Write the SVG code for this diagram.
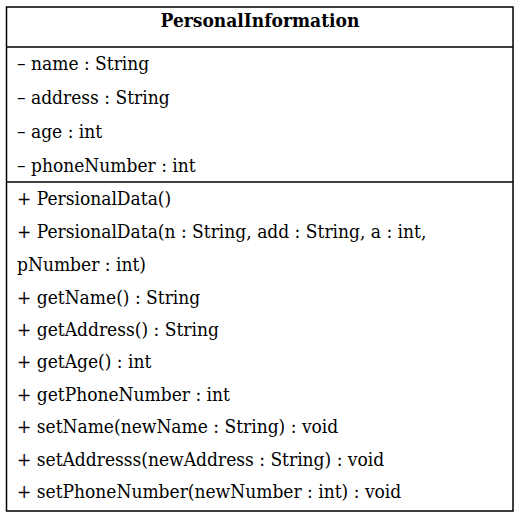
<svg xmlns="http://www.w3.org/2000/svg" width="520" height="518" viewBox="0 0 520 518">
<style>
text{font-family:'DejaVu Serif',serif;font-stretch:condensed;font-size:19px;fill:#000}
.h{font-weight:bold;text-anchor:middle}
.l{stroke:#000;stroke-width:1.5;fill:none}
</style>
<rect width="520" height="518" fill="#fff"/>
<g id="PersonalInformation">
<rect class="l" x="6.5" y="7" width="506.5" height="504"/>
<line class="l" x1="6.5" y1="47" x2="513" y2="47"/>
<line class="l" x1="6.5" y1="182" x2="513" y2="182"/>
<text class="h" x="260" y="27">PersonalInformation</text>
<text x="17" y="70">– name : String</text>
<text x="17" y="104">– address : String</text>
<text x="17" y="138">– age : int</text>
<text x="17" y="172">– phoneNumber : int</text>
<text x="17" y="205">+ PersionalData()</text>
<text x="17" y="238">+ PersionalData(n : String, add : String, a : int,</text>
<text x="17" y="271">pNumber : int)</text>
<text x="17" y="304">+ getName() : String</text>
<text x="17" y="336">+ getAddress() : String</text>
<text x="17" y="368">+ getAge() : int</text>
<text x="17" y="401">+ getPhoneNumber : int</text>
<text x="17" y="433">+ setName(newName : String) : void</text>
<text x="17" y="466">+ setAddresss(newAddress : String) : void</text>
<text x="17" y="498">+ setPhoneNumber(newNumber : int) : void</text>
</g>
<g id="connectors"/>
</svg>
